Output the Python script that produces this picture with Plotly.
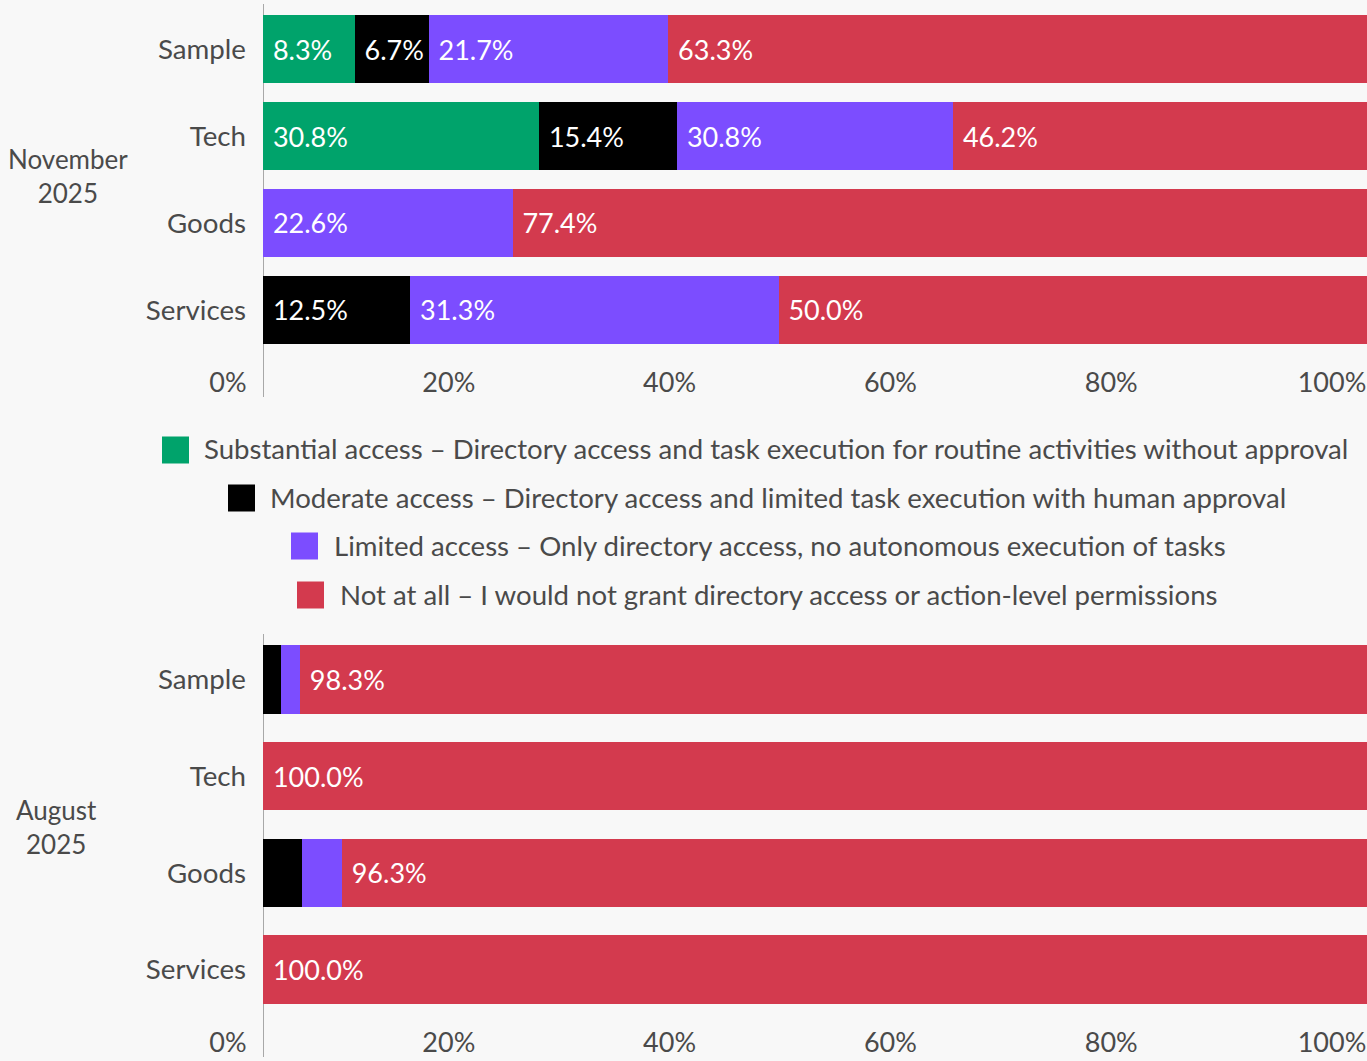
import plotly.graph_objects as go

# --- data -------------------------------------------------------------
categories = ["Sample", "Tech", "Goods", "Services"]

series_names = [
    "Substantial access – Directory access and task execution for routine activities without approval",
    "Moderate access – Directory access and limited task execution with human approval",
    "Limited access – Only directory access, no autonomous execution of tasks",
    "Not at all – I would not grant directory access or action-level permissions",
]

# November 2025 (share of respondents, %)
nov_substantial = [8.3, 30.8, None, None]
nov_moderate = [6.7, 15.4, None, 12.5]
nov_limited = [21.7, 30.8, 22.6, 31.3]
nov_not_at_all = [63.3, 46.2, 77.4, 50.0]

# August 2025 (share of respondents, %)
aug_substantial = [None, None, None, None]
aug_moderate = [1.7, None, 3.7, None]
aug_limited = [1.7, None, 3.7, None]
aug_not_at_all = [98.3, 100.0, 96.3, 100.0]

panel_titles = ["November<br>2025", "August<br>2025"]
x_ticks = [0, 20, 40, 60, 80, 100]
x_tick_labels = ["0%", "20%", "40%", "60%", "80%", "100%"]

# --- styling ----------------------------------------------------------
W, H = 1367, 1061
FONT = "Lato"
TEXT_GREY = "#4a4a4a"
BG = "#f8f8f8"
colors = ["#00a36b", "#000000", "#7c4dff", "#d33a4e"]


def px_x(p):
    return p / W


def px_y(p):
    return 1 - p / H


panels = [
    dict(values=[nov_substantial, nov_moderate, nov_limited, nov_not_at_all],
         xa="x", ya="y", top=15, bottom=344, bar_w=0.782,
         label_xy=(68, 176)),
    dict(values=[aug_substantial, aug_moderate, aug_limited, aug_not_at_all],
         xa="x2", ya="y2", top=645, bottom=1004, bar_w=0.708,
         label_xy=(56, 827)),
]

fig = go.Figure()

for panel in panels:
    for name, color, vals in zip(series_names, colors, panel["values"]):
        fig.add_trace(go.Bar(
            y=categories,
            x=vals,
            orientation="h",
            name=name,
            marker=dict(color=color, line=dict(width=0)),
            width=panel["bar_w"],
            # a leading no-break space keeps the label off the segment edge
            text=["" if v is None else f"\u00a0{v:.1f}%" for v in vals],
            textposition="inside",
            insidetextanchor="start",
            textangle=0,
            textfont=dict(family=FONT, size=27, color="white"),
            xaxis=panel["xa"],
            yaxis=panel["ya"],
            showlegend=False,
            hoverinfo="skip",
        ))

x_domain = [px_x(263), 1.0]

axis_common_x = dict(
    domain=x_domain, range=[0, 100], tickvals=x_ticks, ticktext=x_tick_labels,
    showgrid=False, zeroline=False, showline=False, ticks="",
    tickfont=dict(family=FONT, size=27, color=TEXT_GREY),
    ticklabelshift=-35, ticklabelstandoff=20, automargin=False, fixedrange=True,
)


def y_axis(panel):
    half = panel["bar_w"] / 2
    return dict(
        domain=[px_y(panel["bottom"]), px_y(panel["top"])],
        range=[len(categories) - 1 + half, -half],
        type="category", categoryorder="array", categoryarray=categories,
        showgrid=False, zeroline=False, showline=False, ticks="",
        tickfont=dict(family=FONT, size=27.7, color=TEXT_GREY),
        ticklabelstandoff=16, automargin=False, fixedrange=True,
    )


fig.update_layout(
    width=W, height=H,
    margin=dict(l=0, r=0, t=0, b=0),
    paper_bgcolor=BG, plot_bgcolor=BG,
    barmode="stack", barnorm="percent",
    showlegend=False,
    uniformtext=dict(minsize=27, mode="hide"),
    font=dict(family=FONT, size=27, color=TEXT_GREY),
    xaxis=dict(anchor="y", **axis_common_x),
    xaxis2=dict(anchor="y2", **axis_common_x),
    yaxis=dict(anchor="x", **y_axis(panels[0])),
    yaxis2=dict(anchor="x2", **y_axis(panels[1])),
)

# baseline rule at 0%, running past the bars down to the tick labels
for panel, xa, ya in [(panels[0], "x", "y"), (panels[1], "x2", "y2")]:
    h = panel["bottom"] - panel["top"]
    fig.add_shape(type="line", xref=xa, yref=f"{ya} domain",
                  x0=0, x1=0, y0=-(53 / h), y1=1 + 11 / h,
                  line=dict(color="#a8a8a8", width=2), layer="below")

# group labels on the left
for panel, title in zip(panels, panel_titles):
    lx, ly = panel["label_xy"]
    fig.add_annotation(text=title, xref="paper", yref="paper",
                       x=px_x(lx), y=px_y(ly), xanchor="center", yanchor="middle",
                       align="center", showarrow=False,
                       font=dict(family=FONT, size=26, color=TEXT_GREY))

# centred legend, one series per row
legend_rows = [  # (square left edge, text left edge, row centre) in px
    (162, 202, 449),
    (228, 268, 497),
    (291, 332, 545),
    (297, 338, 594),
]
SQ = 27
for (sq_x, tx_x, cy), name, color in zip(legend_rows, series_names, colors):
    fig.add_shape(type="rect", xref="paper", yref="paper",
                  x0=px_x(sq_x), x1=px_x(sq_x + SQ),
                  y0=px_y(cy + 1 + SQ / 2), y1=px_y(cy + 1 - SQ / 2),
                  fillcolor=color, line=dict(width=0))
    fig.add_annotation(text=name, xref="paper", yref="paper",
                       x=px_x(tx_x), y=px_y(cy), xanchor="left", yanchor="middle",
                       showarrow=False,
                       font=dict(family=FONT, size=27.6, color=TEXT_GREY))

fig.write_html("out.html")
